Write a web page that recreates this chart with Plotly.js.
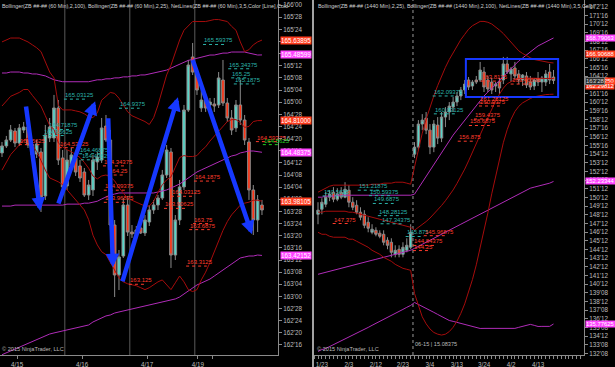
<!DOCTYPE html>
<html><head><meta charset="utf-8">
<script src="https://cdn.plot.ly/plotly-3.0.1.min.js"></script>
<style>html,body{margin:0;padding:0;background:#000;}#chart{width:615px;height:367px;}</style>
</head><body><div id="chart"></div><script>
// ---------- LEFT PANEL (60 Min) ----------
const lOpen  = [164.477,164.549,164.610,164.703,164.579,164.713,164.744,164.559,164.466,164.487,164.034,164.631,164.631,164.940,164.425,164.137,164.343,164.425,164.343,164.281,164.044,164.096,164.384,164.404,164.754,164.610,163.735,163.221,163.416,163.941,163.663,163.643,163.705,163.653,163.766,163.890,163.941,164.013,164.250,164.487,163.426,163.787,164.127,164.919,165.465,165.310,164.940,165.022,164.971,164.981,164.971,165.228,164.991,164.837,164.734,164.971,164.816,164.590,164.096,163.787,163.941];
const lHigh  = [164.590,164.652,164.765,164.734,164.775,164.796,164.837,164.610,164.610,164.528,164.765,164.837,165.074,165.022,164.507,164.507,164.528,164.487,164.404,164.322,164.199,164.456,164.487,164.837,164.868,164.713,163.787,163.478,164.013,164.034,163.735,163.725,163.766,163.838,163.941,163.993,164.044,164.302,164.559,164.528,163.838,164.199,164.971,165.434,165.609,165.352,165.146,165.074,165.043,165.043,165.310,165.434,165.043,164.919,165.022,165.228,164.868,164.631,164.147,164.044,163.993];
const lLow   = [164.435,164.528,164.590,164.538,164.549,164.682,164.528,164.425,164.425,163.869,163.993,164.590,164.590,164.353,164.075,164.096,164.302,164.240,164.178,164.024,163.993,164.034,164.302,164.374,164.590,163.684,162.994,163.066,163.396,163.622,163.602,163.581,163.643,163.622,163.725,163.849,163.890,163.993,164.219,163.293,163.375,163.735,164.096,164.899,165.279,165.074,164.899,164.899,164.919,164.899,164.940,164.960,164.796,164.662,164.693,164.765,164.559,163.993,163.632,163.663,163.838];
const lClose = [164.549,164.610,164.713,164.579,164.734,164.744,164.559,164.456,164.569,164.024,164.662,164.744,164.940,164.404,164.127,164.404,164.456,164.281,164.219,164.044,164.147,164.404,164.435,164.734,164.610,163.735,163.221,163.406,163.941,163.663,163.643,163.684,163.653,163.787,163.890,163.941,164.013,164.250,164.507,163.426,163.787,164.127,164.919,165.382,165.310,165.125,165.022,164.940,165.001,164.960,165.249,164.991,164.837,164.713,164.971,164.816,164.610,164.096,163.787,163.993,163.890];
const lBBfastUpper = [165.62,165.64,165.66,165.66,165.66,165.64,165.62,165.59,165.56,165.52,165.41,165.31,165.25,164.97,164.92,164.92,164.92,164.91,164.90,164.88,164.85,164.84,164.89,165.02,165.06,165.10,165.09,165.04,164.97,164.90,164.86,164.84,164.82,164.80,164.77,164.84,164.97,165.13,165.28,165.38,165.52,165.64,165.74,165.79,165.83,165.83,165.83,165.83,165.84,165.85,165.85,165.84,165.83,165.78,165.74,165.62,165.52,165.54,165.59,165.62,165.639];
const lBBfastMid = [164.96,165.01,165.06,165.08,165.10,165.13,165.13,165.07,165.02,164.96,164.86,164.76,164.72,164.58,164.54,164.51,164.49,164.46,164.43,164.38,164.32,164.24,164.21,164.24,164.25,164.23,164.19,164.12,164.07,164.01,163.99,163.97,163.95,163.93,163.93,163.98,164.07,164.15,164.20,164.23,164.33,164.43,164.45,164.44,164.44,164.45,164.50,164.54,164.60,164.65,164.71,164.76,164.80,164.82,164.82,164.79,164.74,164.75,164.80,164.81,164.81];
const lBBfastLower = [164.30,164.38,164.46,164.51,164.56,164.61,164.63,164.56,164.49,164.40,164.30,164.22,164.20,164.18,164.15,164.10,164.04,163.99,163.94,163.89,163.79,163.63,163.53,163.46,163.43,163.35,163.27,163.19,163.15,163.13,163.12,163.11,163.09,163.07,163.09,163.12,163.15,163.17,163.12,163.07,163.14,163.21,163.15,163.07,163.05,163.07,163.17,163.25,163.35,163.46,163.58,163.68,163.77,163.84,163.89,163.94,163.96,163.97,163.99,163.99,163.981];
const lBBslowUpper = [165.30,165.30,165.31,165.31,165.31,165.30,165.30,165.29,165.29,165.28,165.27,165.25,165.23,165.22,165.21,165.21,165.21,165.21,165.21,165.21,165.21,165.22,165.23,165.23,165.24,165.24,165.25,165.25,165.26,165.26,165.27,165.27,165.28,165.28,165.29,165.30,165.31,165.32,165.33,165.35,165.37,165.39,165.41,165.43,165.44,165.45,165.465,165.475,165.485,165.485,165.495,165.505,165.505,165.516,165.516,165.516,165.516,165.505,165.495,165.485,165.486];
const lBBslowMid = [163.93,163.93,163.93,163.94,163.94,163.94,163.94,163.94,163.94,163.94,163.94,163.94,163.94,163.94,163.94,163.95,163.95,163.95,163.95,163.96,163.96,163.97,163.98,164.003,164.024,164.044,164.054,164.065,164.065,164.065,164.065,164.065,164.065,164.065,164.065,164.065,164.075,164.085,164.096,164.116,164.137,164.157,164.188,164.219,164.25,164.281,164.302,164.322,164.343,164.363,164.384,164.404,164.425,164.446,164.456,164.477,164.487,164.497,164.497,164.487,164.484];
const lBBslowLower = [162.40,162.42,162.44,162.46,162.48,162.50,162.52,162.54,162.56,162.58,162.60,162.613,162.624,162.634,162.644,162.655,162.665,162.675,162.685,162.696,162.706,162.737,162.757,162.778,162.799,162.809,162.829,162.840,162.850,162.860,162.870,162.881,162.891,162.902,162.912,162.922,162.932,162.943,162.953,162.963,162.974,162.994,163.025,163.056,163.087,163.118,163.138,163.159,163.179,163.21,163.241,163.272,163.303,163.334,163.365,163.396,163.406,163.416,163.416,163.426,163.422];
const lDateTicks = [3.5, 18.5, 33.5, 45.2, 48.5];
const lDateText  = ['4/15','4/16','4/17','4/19',''];
const lSessionBreaks = [14.5, 29.5, 44.5];
const lPriceTicks = [166,165.875,165.75,165.625,165.5,165.375,165.25,165.125,165,164.875,164.75,164.625,164.5,164.375,164.25,164.125,164,163.875,163.75,163.625,163.5,163.375,163.25,163.125,163,162.875,162.75,162.625,162.5];
const lPriceText  = ["166'00","165'28","165'24","165'20","165'16","165'12","165'08","165'04","165'00","164'28","164'24","164'20","164'16","164'12","164'08","164'04","164'00","163'28","163'24","163'20","163'16","163'12","163'08","163'04","163'00","162'28","162'24","162'20","162'16"];
const lLabels = [["165.59375",46.2,"up"],["165.34375",52.0,"up"],["165.25",52.7,"up"],["165.1875",53.3,"up"],["165.03125",14.1,"up"],["164.9375",26.8,"up"],["164.71875",10.4,"up"],["164.65625",9.2,"up"],["164.46875",17.6,"up"],["164.40625",18.0,"up"],
  ["164.5625",3.7,"dn"],["164.53125",12.9,"dn"],["164.34375",23.1,"dn"],["164.25",24.2,"dn"],["164.09375",23.3,"dn"],["163.96875",23.3,"dn"],["164.1875",44.1,"dn"],["164.03125",38.8,"dn"],["163.90625",37.2,"dn"],["163.75",43.9,"dn"],["163.6875",43.0,"dn"],["163.3125",42.3,"dn"],["163.125",29.1,"dn"],["164.59375",58.4,"dn"],["164.5625",60.0,"gr"]];
const lTags = [["165.63895","#ff3c1e"],["165.48599","#ff44ff"],["164.81000","#ff3c1e"],["164.48375","#ff44ff"],["163.98105","#ff3c1e"],["163.42152","#ff44ff"]];
const lArrows = [[5.5,164.97,8.8,163.88],[12.9,163.94,21.5,165.01],[24.5,164.85,25.6,163.30],[27.7,163.14,40.6,165.05],[43.9,165.45,57.7,163.64]];

// ---------- RIGHT PANEL (1440 Min) ----------
const rOpen  = [148.44,149.02,149.60,150.41,150.99,150.18,150.99,150.41,151.22,149.83,149.48,148.68,148.44,147.52,146.36,146.59,146.25,146.13,145.44,145.21,143.82,144.40,143.82,144.28,144.63,155.38,156.19,158.85,159.54,158.15,156.19,158.73,157.23,159.66,160.24,160.81,161.39,162.09,162.78,163.94,163.24,163.94,163.94,164.86,163.94,163.70,163.24,163.70,163.94,165.79,164.63,165.32,164.63,163.94,164.40,163.70,163.24,164.05,163.70,163.70,164.86,164.28];
const rHigh  = [149.83,150.29,150.99,151.22,151.57,151.45,151.57,152.14,151.80,150.41,150.06,149.25,148.91,148.10,147.29,146.94,146.59,146.59,145.79,145.67,144.86,144.86,145.21,145.67,147.29,156.77,159.31,160.00,160.24,158.85,159.31,159.66,160.24,160.81,161.39,161.97,162.55,163.13,163.94,164.28,163.94,164.40,166.02,165.44,164.40,164.17,163.70,164.17,166.60,166.60,165.44,166.02,165.09,164.63,164.86,164.40,164.17,164.86,164.40,165.09,165.79,165.09];
const rLow   = [147.29,148.44,149.25,149.95,149.83,149.95,150.18,150.29,149.25,148.91,148.44,147.75,146.83,146.36,146.13,145.90,145.67,144.86,144.40,143.47,143.47,143.47,143.47,144.05,144.40,154.92,155.84,158.15,157.69,155.38,155.61,156.54,156.77,158.50,159.31,160.24,160.93,161.62,162.32,162.78,162.78,163.47,163.70,162.55,162.55,162.32,162.55,162.32,163.47,164.63,163.70,163.94,163.47,163.24,163.01,162.78,162.78,163.24,162.55,163.24,163.47,163.47];
const rClose = [148.91,149.83,150.41,150.76,150.18,150.76,150.41,151.33,149.83,149.25,148.68,148.10,147.17,146.83,146.71,146.13,145.90,145.21,144.86,144.05,144.28,143.82,144.63,144.86,146.36,156.19,158.85,159.31,158.15,156.19,158.85,157.23,159.66,160.24,160.93,161.39,162.09,162.78,163.47,163.13,163.70,163.70,165.09,163.13,162.90,162.78,163.47,163.01,165.79,164.86,165.21,164.40,163.94,164.51,163.36,163.13,163.94,163.70,164.17,164.63,163.94,163.875];
const rBBfastUpper = [150.99,151.22,151.45,151.68,151.80,151.80,151.80,151.80,151.80,151.80,151.80,151.80,151.80,151.80,151.91,151.91,151.91,152.03,152.03,152.03,152.14,152.14,152.14,152.03,151.91,153.90,156.00,157.80,159.40,160.80,162.10,163.30,164.40,165.40,166.30,167.10,167.90,168.60,169.20,169.80,170.20,170.50,170.70,170.70,170.60,170.40,170.10,169.70,169.30,168.80,168.20,167.70,167.30,167.00,166.70,166.50,166.30,166.20,166.10,166.00,165.95,165.907];
const rBBfastMid = [148.68,148.68,148.79,148.79,148.79,148.79,148.79,148.79,148.68,148.68,148.56,148.44,148.33,148.21,148.10,147.98,147.87,147.75,147.64,147.52,147.40,147.29,147.17,147.06,146.94,146.60,146.90,147.20,147.60,148.00,148.45,148.95,149.45,150.00,150.60,151.25,152.00,152.80,153.65,154.60,155.55,156.55,157.60,158.60,159.60,160.60,161.50,162.30,163.00,163.50,163.80,164.00,164.10,164.15,164.15,164.15,164.15,164.15,164.15,164.12,164.11,164.10];
const rBBfastLower = [146.36,146.13,146.13,145.90,145.79,145.79,145.79,145.79,145.56,145.56,145.33,145.10,144.86,144.63,144.28,144.05,143.82,143.47,143.24,143.01,142.66,142.43,142.20,142.09,141.97,139.30,137.80,136.60,135.80,135.20,134.80,134.60,134.50,134.60,134.90,135.40,136.10,137.00,138.10,139.40,140.90,142.60,144.50,146.50,148.60,150.80,152.90,154.90,156.70,158.20,159.40,160.30,160.90,161.30,161.60,161.80,162.00,162.10,162.20,162.25,162.28,162.298];
const rBBslowUpper = [150.41,150.41,150.53,150.53,150.53,150.64,150.64,150.64,150.64,150.64,150.64,150.64,150.64,150.64,150.64,150.64,150.64,150.64,150.64,150.64,150.64,150.64,150.64,150.64,150.64,150.76,151.45,152.14,152.84,153.53,154.22,154.92,155.61,156.30,157.00,157.58,158.15,158.73,159.31,159.89,160.47,161.05,161.62,162.09,162.55,163.01,163.47,163.94,164.40,164.86,165.32,165.79,166.13,166.48,166.83,167.17,167.52,167.87,168.10,168.33,168.56,168.79];
const rBBslowMid = [141.51,141.62,141.74,141.85,141.97,142.09,142.20,142.32,142.43,142.55,142.66,142.78,142.89,143.01,143.13,143.24,143.36,143.47,143.59,143.70,143.82,143.94,144.05,144.17,144.28,144.51,144.75,144.98,145.21,145.44,145.67,145.90,146.13,146.36,146.59,146.83,147.06,147.29,147.52,147.75,147.98,148.21,148.44,148.68,148.91,149.14,149.37,149.60,149.83,150.06,150.29,150.53,150.76,150.99,151.22,151.45,151.57,151.68,151.80,151.91,152.03,152.23];
const rBBslowLower = [132.61,132.83,132.95,133.17,133.41,133.54,133.76,134.00,134.22,134.46,134.68,134.92,135.14,135.38,135.62,135.84,136.08,136.30,136.54,136.76,137.00,137.24,137.46,137.70,137.92,138.26,138.05,137.82,137.58,137.35,137.12,136.88,136.65,136.42,136.18,136.08,135.97,135.85,135.73,135.61,135.49,135.37,135.26,135.27,135.27,135.27,135.27,135.26,135.26,135.26,135.26,135.27,135.39,135.50,135.61,135.73,135.62,135.49,135.50,135.49,135.50,135.776];
const rDateTicks = [1,8,15,22,29,36,43,50,57];
const rDateText  = ['1/23','2/3','2/12','2/23','3/4','3/13','3/24','4/2','4/13'];
const rRollover = 24.6;
const rPriceText = ["172'12","171'16","170'12","169'16","168'12","167'16","166'12","165'16","164'12","163'12","161'16","160'12","159'16","158'12","157'16","156'12","155'16","154'12","153'12","152'12","152'08","151'12","150'12","149'12","148'12","147'12","146'12","145'12","144'12","143'12","142'12","141'12","140'12","139'08","138'12","137'08","136'12","135'08","134'12","133'08","132'08"];
const rPriceTicks = rPriceText.map((t,k)=>172.375-k);
const rLabels = [["151.21875",10.1,"up"],["150.5625",1.0,"up"],["150.59375",13.0,"up"],["149.6875",14.0,"up"],["148.28125",15.3,"up"],["147.34375",16.0,"up"],["145.875",22.5,"up"],["162.09375",29.5,"up"],["160.03125",29.8,"up"],
  ["147.375",3.6,"dn"],["145.96875",27.2,"dn"],["144.84375",24.4,"dn"],["144.25",24.4,"dn"],["161.28125",41.5,"dn"],["160.9375",41.5,"dn"],["159.4375",40.2,"dn"],["158.6875",38.9,"dn"],["156.875",36.0,"dn"],["163.8125",42.0,"dn"],["163.46875",49.7,"dn"]];
const rTags = [["168.79063","#ff44ff",0],["166.90688","#ff3c1e",0],["164.10250","#ff3c1e",-2],["162.29812","#ff3c1e",8],["152.23344","#ff44ff",0],["135.77625","#ff44ff",0]];
const rLast = ["163'28",163.875];
const rBox = [38.3, 166.36, 62.2, 161.97];

// ---------- BUILD ----------
const UP='#55d6c8', DN='#ff3414', WICK='#8a8a8a', FAST='#a50c0c', SLOW='#b02cb8', TEAL='#2bb3aa', RED='#ff3b2b', GREEN='#20d020', BLUE='#1638ff';
const lX = lOpen.map((_,i)=>i), rX = rOpen.map((_,i)=>i);
function candle(x,o,h,l,c,xa,ya){return {type:'candlestick',x:x,open:o,high:h,low:l,close:c,xaxis:xa,yaxis:ya,
  increasing:{line:{color:WICK,width:1},fillcolor:UP},decreasing:{line:{color:WICK,width:1},fillcolor:DN},whiskerwidth:0,hoverinfo:'skip',showlegend:false};}
function line(x,y,col,xa,ya){return {type:'scatter',mode:'lines',x:x,y:y,line:{color:col,width:1},xaxis:xa,yaxis:ya,hoverinfo:'skip',showlegend:false};}
const data=[
  line(lX,lBBslowUpper,SLOW,'x','y'),line(lX,lBBslowMid,SLOW,'x','y'),line(lX,lBBslowLower,SLOW,'x','y'),
  line(lX,lBBfastUpper,FAST,'x','y'),line(lX,lBBfastMid,FAST,'x','y'),line(lX,lBBfastLower,FAST,'x','y'),
  candle(lX,lOpen,lHigh,lLow,lClose,'x','y'),
  line(rX,rBBslowUpper,SLOW,'x2','y2'),line(rX,rBBslowMid,SLOW,'x2','y2'),line(rX,rBBslowLower,SLOW,'x2','y2'),
  line(rX,rBBfastUpper,FAST,'x2','y2'),line(rX,rBBfastMid,FAST,'x2','y2'),line(rX,rBBfastLower,FAST,'x2','y2'),
  candle(rX,rOpen,rHigh,rLow,rClose,'x2','y2')
];
const FONT='Liberation Sans, Arial, sans-serif';
const ann=[], shp=[];
function addLabels(list,xa,ya,barPerChar){
  list.forEach(([t,b,k])=>{
    const col = k==='up'?TEAL:(k==='dn'?RED:GREEN);
    ann.push({xref:xa,yref:ya,x:b,y:Number(t),text:t,showarrow:false,xanchor:'left',yanchor:'bottom',yshift:-1,font:{family:FONT,size:6,color:col}});
    shp.push({type:'line',xref:xa,yref:ya,x0:b+0.2,x1:b+t.length*barPerChar,y0:Number(t),y1:Number(t),line:{color:col,width:1,dash:'dot'}});
  });
}
addLabels(lLabels,'x','y',0.62);
addLabels(rLabels,'x2','y2',0.7);
lTags.forEach(([t,c])=>ann.push({xref:'paper',yref:'y',x:280/615,y:Number(t),text:t,showarrow:false,xanchor:'left',yanchor:'middle',bgcolor:c,borderpad:0,font:{family:FONT,size:6.3,color:'#ffffff'}}));
rTags.forEach(([t,c,s])=>ann.push({xref:'paper',yref:'y2',x:585/615,y:Number(t),yshift:s,text:t,showarrow:false,xanchor:'left',yanchor:'middle',bgcolor:c,borderpad:0,font:{family:FONT,size:5.9,color:'#ffffff'}}));
ann.push({xref:'paper',yref:'y2',x:585/615,y:rLast[1],text:rLast[0],showarrow:false,xanchor:'left',yanchor:'middle',bgcolor:'#2a2a2a',bordercolor:'#777',borderwidth:1,borderpad:0,font:{family:FONT,size:6,color:'#dddddd'}});
lArrows.forEach(([tb,tp,hb,hp])=>ann.push({xref:'x',yref:'y',axref:'x',ayref:'y',x:hb,y:hp,ax:tb,ay:tp,text:'',showarrow:true,arrowhead:2,arrowsize:0.6,arrowwidth:4.5,arrowcolor:BLUE}));
shp.push({type:'rect',xref:'x2',yref:'y2',x0:rBox[0],x1:rBox[2],y0:rBox[1],y1:rBox[3],line:{color:BLUE,width:2}});
lSessionBreaks.forEach(b=>shp.push({type:'line',xref:'x',yref:'paper',x0:b,x1:b,y0:12/367,y1:1,line:{color:'#5a5a5a',width:1},layer:'below'}));
shp.push({type:'line',xref:'x2',yref:'paper',x0:rRollover,x1:rRollover,y0:12/367,y1:1,line:{color:'#9a9a9a',width:1,dash:'dot'},layer:'below'});
shp.push({type:'line',xref:'paper',yref:'paper',x0:313/615,x1:313/615,y0:0,y1:1,line:{color:'#d8d8d8',width:1.5}});
const hdrL='Bollinger(ZB ##-## (60 Min),2,100), Bollinger(ZB ##-## (60 Min),2,25), NetLines(ZB ##-## (60 Min),3,5,Color [Line],Colo';
const hdrR='Bollinger(ZB ##-## (1440 Min),2,25), Bollinger(ZB ##-## (1440 Min),2,100), NetLines(ZB ##-## (1440 Min),3,5,Color';
ann.push({xref:'paper',yref:'paper',x:0,y:1,yshift:-1,text:hdrL,showarrow:false,xanchor:'left',yanchor:'top',font:{family:FONT,size:5.4,color:'#d0d0d0'}});
ann.push({xref:'paper',yref:'paper',x:316/615,y:1,yshift:-1,text:hdrR,showarrow:false,xanchor:'left',yanchor:'top',font:{family:FONT,size:5.4,color:'#d0d0d0'}});
ann.push({xref:'paper',yref:'paper',x:0,y:12/367,yshift:1,text:'© 2015 NinjaTrader, LLC',showarrow:false,xanchor:'left',yanchor:'bottom',font:{family:FONT,size:5.6,color:'#bbbbbb'}});
ann.push({xref:'paper',yref:'paper',x:315/615,y:12/367,yshift:1,text:'© 2015 NinjaTrader, LLC',showarrow:false,xanchor:'left',yanchor:'bottom',font:{family:FONT,size:5.6,color:'#bbbbbb'}});
ann.push({xref:'x2',yref:'paper',x:rRollover,y:12/367,yshift:6,text:'06-15 | 15.08375',showarrow:false,xanchor:'left',yanchor:'bottom',font:{family:FONT,size:5.6,color:'#bbbbbb'}});

const axBase={showgrid:false,zeroline:false,showline:true,linecolor:'#8a8a8a',linewidth:1,ticks:'outside',ticklen:3,tickcolor:'#8a8a8a',tickfont:{family:FONT,size:6.3,color:'#bdbdbd'},fixedrange:true};
const layout={
  width:615,height:367,margin:{l:0,r:0,t:0,b:0},paper_bgcolor:'#000',plot_bgcolor:'#000',showlegend:false,boxgap:0.12,
  xaxis:Object.assign({},axBase,{domain:[0,278/615],range:[-0.46,63.7],tickmode:'array',tickvals:lDateTicks,ticktext:lDateText,rangeslider:{visible:false},anchor:'y'}),
  yaxis:Object.assign({},axBase,{domain:[12/367,1],range:[162.397,166.0515],side:'right',anchor:'x',tickmode:'array',tickvals:lPriceTicks,ticktext:lPriceText}),
  xaxis2:Object.assign({},axBase,{domain:[314/615,584/615],range:[-1.04,68.9],tickmode:'array',tickvals:rDateTicks,ticktext:rDateText,rangeslider:{visible:false},anchor:'y2',minor:{ticks:'outside',ticklen:3,tickcolor:'#8a8a8a',tickmode:'linear',tick0:0,dtick:1}}),
  yaxis2:Object.assign({},axBase,{domain:[12/367,1],range:[132.197,173.171],side:'right',anchor:'x2',tickmode:'array',tickvals:rPriceTicks,ticktext:rPriceText}),
  annotations:ann,shapes:shp
};
Plotly.newPlot('chart',data,layout,{staticPlot:true,displayModeBar:false});
</script></body></html>
